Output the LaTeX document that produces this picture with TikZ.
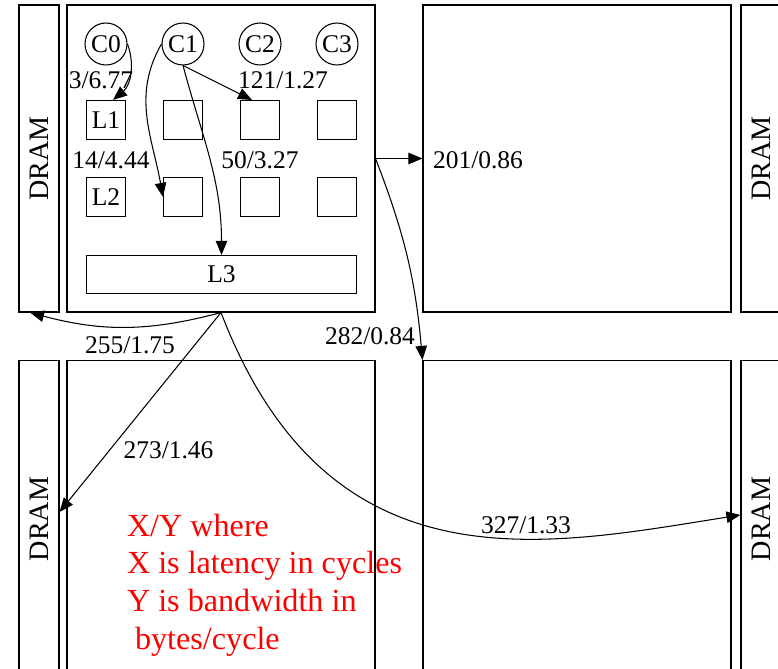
\documentclass[tikz,border=0pt]{standalone}
\usepackage{fontspec}
\setmainfont{Liberation Serif}
\usetikzlibrary{arrows.meta, positioning}

\begin{document}
\begin{tikzpicture}[font=\fontsize{14.5}{17}\selectfont, >={Triangle[length=8pt,width=6.5pt]},
    line width=0.6pt,
    tile/.style={draw, minimum width=6.16cm, minimum height=6.14cm},
    dram/.style={draw, minimum width=0.8cm, minimum height=6.14cm, font=\fontsize{16}{19}\selectfont},
    core/.style={draw, circle, minimum size=0.84cm, inner sep=0pt},
    cache/.style={draw, minimum size=0.78cm, inner sep=0pt},
    lat/.style={inner sep=1pt}]
  \clip (0,0) rectangle (15.56,13.36);
  % Tiles and DRAM
  \foreach \r/\y/\h in {1/10.19/6.14, 2/2.98/6.34}{
    \node[dram, minimum height=\h cm] (d\r1) at (0.78,\y) {\rotatebox{90}{DRAM}};
    \node[tile, minimum height=\h cm] (t\r1) at (4.42,\y) {};
    \node[tile, minimum height=\h cm] (t\r2) at (11.54,\y) {};
    \node[dram, minimum height=\h cm] (d\r3) at (15.22,\y) {\rotatebox{90}{DRAM}};
  }
  % Cores and caches
  \foreach \i/\x/\la/\lb in {0/2.12/L1/L2, 1/3.66/{}/{}, 2/5.20/{}/{}, 3/6.74/{}/{}}{
    \node[core] (c\i) at (\x,12.48) {C\i};
    \node[cache] (l1\i) at (\x,10.96) {\la};
    \node[cache] (l2\i) at (\x,9.42) {\lb};
  }
  \node[draw, minimum width=5.40cm, minimum height=0.76cm] (l3) at (4.43,7.87) {L3};
  % Hops inside the tile
  \draw[->] (c0.east) to[out=-70,in=40] ([xshift=0.14cm]l10.north);
  \draw[->] (c1.west) to[out=-120,in=100] (l21.west);
  \draw[->] (c1.south) -- ([xshift=-0.16cm]l12.north);
  \draw[->] (c1.south) to[out=-75,in=90] (l3.north);
  % Hops to other tiles and DRAM
  \draw[->] (t11.east) -- (t12.west);
  \draw[->] (t11.east) to[bend left=8] (t22.north west);
  \draw[->] (t11.south) to[bend left=15] ([xshift=-0.18cm]d11.south);
  \draw[->] (t11.south) -- ([yshift=0.14cm]d21.east);
  \draw[->] (t11.south) to[out=-69,in=189,out distance=6cm,in distance=4cm] ([yshift=0.08cm]d23.west);
  % Latency/bandwidth labels
  \foreach \nm/\x/\y/\txt in {
    w0/2.02/11.76/{3/6.77},
    w1/5.66/11.76/{121/1.27},
    w2/2.22/10.16/{14/4.44},
    w3/5.20/10.16/{50/3.27},
    w4/9.56/10.16/{201/0.86},
    w5/7.40/6.63/{282/0.84},
    w6/2.60/6.46/{255/1.75},
    w7/3.37/4.36/{273/1.46},
    w8/10.52/2.86/{327/1.33}}
    \node[lat] (\nm) at (\x,\y) {\txt};
  % Legend
  \node[text=red, align=left, anchor=north west, inner sep=0pt, font=\fontsize{18.3}{21.4}\selectfont]
    (note) at (2.53,3.09) {X/Y where\\X is latency in cycles\\Y is bandwidth in\\\hspace*{0.25em}bytes/cycle};
\end{tikzpicture}
\end{document}
